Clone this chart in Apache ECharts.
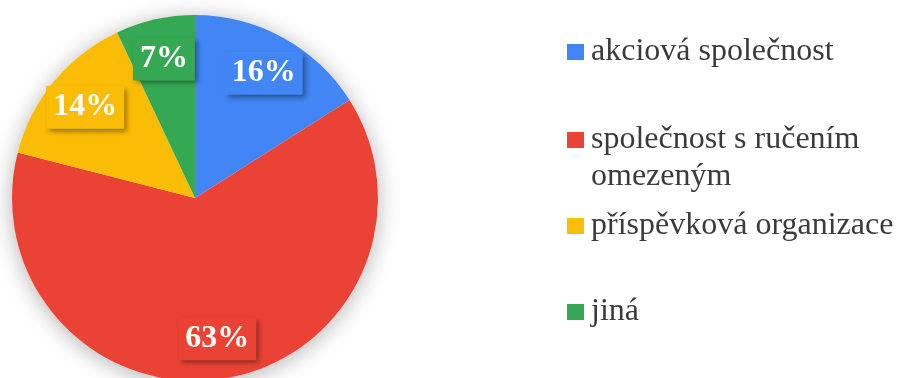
<!DOCTYPE html>
<html>
<head>
<meta charset="utf-8">
<script src="https://cdn.jsdelivr.net/npm/echarts@6/dist/echarts.min.js"></script>
<style>
    html, body { margin: 0; padding: 0; background: #ffffff; }
    #myEchart { width: 897px; height: 378px; }
</style>
</head>
<body>
<div id="myEchart"></div>
<script>
var names = ['akciová společnost', 'společnost s ručením omezeným', 'příspěvková organizace', 'jiná'];
var shares = [16, 63, 14, 7];
var colors = ['#4285f4', '#ea4335', '#fbbc05', '#34a853'];

(function() {

    var myChart = echarts.init(document.getElementById("myEchart"));
    var center = [195, 198];
    var radius = 183;
    var serif = '"Liberation Serif", "Times New Roman", serif';

    var total = 0;
    for (var i = 0; i < shares.length; i++) {
        total += shares[i];
    }

    var pieData = [];
    var labelData = [];
    for (i = 0; i < names.length; i++) {
        pieData.push({ name: names[i], value: shares[i], itemStyle: { color: colors[i] } });
        labelData.push({
            name: names[i],
            value: shares[i],
            label: { backgroundColor: colors[i] }
        });
    }

    // one legend per item; the long name gets an empty first line so that
    // its marker lines up with the first printed line
    var legendTops = [33.5, 84.5, 207.5, 293.5];
    var legends = [];
    for (i = 0; i < names.length; i++) {
        legends.push({
            left: 567,
            top: legendTops[i],
            padding: 0,
            itemWidth: 17,
            itemHeight: 16,
            selectedMode: false,
            formatter: function(name) {
                if (name.indexOf('ručením ') >= 0) {
                    return '\n' + name.replace('ručením ', 'ručením\n');
                }
                return name;
            },
            textStyle: {
                fontFamily: serif,
                fontSize: 32,
                lineHeight: 37,
                color: '#3b3b3b',
                padding: [0, 0, 0, 2]
            },
            data: [{ name: names[i], icon: 'rect' }]
        });
    }

    myChart.setOption({
        animation: false,
        legend: legends,
        series: [{
            // soft shadow behind the whole pie
            type: 'pie',
            center: center,
            radius: radius,
            silent: true,
            z: 1,
            label: { show: false },
            labelLine: { show: false },
            itemStyle: {
                color: '#ffffff',
                shadowBlur: 22,
                shadowColor: 'rgba(0,0,0,0.3)',
                shadowOffsetY: 3
            },
            data: [{ name: 'celkem', value: total }]
        }, {
            type: 'pie',
            center: center,
            radius: radius,
            startAngle: 90,
            clockwise: true,
            silent: true,
            z: 2,
            label: { show: false },
            labelLine: { show: false },
            data: pieData
        }, {
            // transparent ring that only carries the labels
            type: 'pie',
            center: center,
            radius: [96, radius],
            startAngle: 90,
            clockwise: true,
            silent: true,
            z: 3,
            itemStyle: { color: 'rgba(0,0,0,0)' },
            label: {
                show: true,
                position: 'inside',
                formatter: '{c}%',
                color: '#ffffff',
                fontFamily: serif,
                fontWeight: 'bold',
                fontSize: 32,
                padding: [6, 7, 5, 7],
                shadowColor: 'rgba(0,0,0,0.4)',
                shadowBlur: 5,
                shadowOffsetX: 3,
                shadowOffsetY: 3
            },
            labelLine: { show: false },
            data: labelData
        }]
    });

})();
</script>
</body>
</html>
